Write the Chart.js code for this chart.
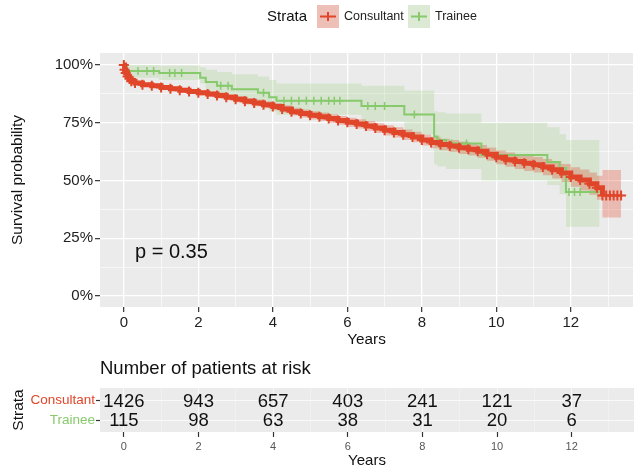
<!DOCTYPE html>
<html><head><meta charset="utf-8">
<script src="https://cdn.jsdelivr.net/npm/chart.js@4"></script>
<style>
html,body{margin:0;padding:0;background:#fff;width:640px;height:470px;overflow:hidden;}
.box{position:absolute;left:0;width:640px;}
</style></head><body>
<div class="box" style="top:0;height:350px"><canvas id="c1"></canvas></div>
<div class="box" style="top:350px;height:120px"><canvas id="c2"></canvas></div>
<script>
// ---------- data ----------
const strata = ['Consultant', 'Trainee'];
const consultantTime = [0,0.02,0.05,0.1,0.15,0.2,0.3,0.5,0.75,1,1.25,1.5,1.75,2,2.25,2.5,2.75,3,3.25,3.5,3.75,4,4.25,4.5,4.75,5,5.25,5.5,5.75,6,6.25,6.5,6.75,7,7.25,7.5,7.75,8,8.25,8.5,8.75,9,9.25,9.5,9.75,10,10.25,10.5,10.75,11,11.25,11.5,11.75,12,12.25,12.5,12.7,12.85,13.35];
const consultantSurv = [100,98,96.5,95,94,93,92.2,91.5,91,90.3,89.7,89.1,88.5,88,87.4,86.8,86,85.2,84.3,83.6,82.8,82,81,79.8,79,78.2,77.6,76.8,76,75.2,74.5,73.6,72.7,71.7,70.8,69.8,68.8,67.5,66.4,65.6,64.9,64.2,63.5,62.6,61.4,60,59,58.2,57.4,56.8,55.8,54.6,53.2,51.5,50.2,48.6,46.8,43.5,43.5];
const consultantUpper = [100,98.6,97.2,95.8,94.8,93.8,93.1,92.4,91.9,91.3,90.7,90.2,89.6,89.2,88.6,88.1,87.3,86.6,85.7,85.1,84.3,83.6,82.6,81.5,80.7,80,79.4,78.7,77.9,77.2,76.5,75.7,74.8,73.9,73,72.1,71.1,69.9,68.9,68.1,67.5,66.9,66.2,65.4,64.3,63,62.1,61.4,60.7,60.2,59.3,58.3,57.1,55.7,54.7,53.4,52,54.5,54.5];
const consultantLower = [100,97.4,95.8,94.2,93.2,92.2,91.3,90.6,90.1,89.3,88.7,88,87.4,86.8,86.2,85.5,84.7,83.8,82.9,82.1,81.3,80.4,79.4,78.1,77.3,76.4,75.8,74.9,74.1,73.2,72.5,71.5,70.6,69.5,68.6,67.5,66.5,65.1,63.9,63.1,62.3,61.5,60.8,59.8,58.5,57,55.9,55,54.1,53.4,52.3,50.9,49.3,47.3,45.7,43.8,41.6,34,34];
const consultantEndCensorTime = [12.95,13.05,13.15,13.25];
const consultantEndCensorSurv = [43.5,43.5,43.5,43.5];

const traineeTime = [0,0.08,0.95,2.05,2.2,2.5,2.9,3.6,3.9,4.1,6.38,7.53,8.33,8.42,8.65,9.6,11.37,11.7,11.87,12.77];
const traineeSurv = [100,97.4,96.5,94.5,92.6,91,89.5,88,86,84.5,82.3,78.6,69,67.5,66,61,58,55.4,45,45];
const traineeUpper = [100,100,99.8,99,98,97,96,95,93.5,92,91,89,80,79.5,79,75,73,70,67.5,67.5];
const traineeLower = [100,94.5,93.5,92,89,86.5,84.5,83,80,78.5,75.5,70,57,56,55,50,48,44,30,30];
const traineeCensorTime = [0.38,0.62,0.8,1.23,1.37,1.55,2.6,2.8,3.75,4.3,4.5,4.7,4.9,5.1,5.3,5.5,5.65,5.8,6.55,6.75,7.0,7.8,8.8,9.2,11.95,12.1,12.25];
const traineeCensorSurv = [97.4,97.4,97.4,96.5,96.5,96.5,91,91,88,84.5,84.5,84.5,84.5,84.5,84.5,84.5,84.5,84.5,82.3,82.3,82.3,78.6,66,66,45,45,45];

const pValueText = 'p = 0.35';
const xMajorTicks = [0,2,4,6,8,10,12];
const yMajorTicks = [0,25,50,75,100];
const riskTimes = [0,2,4,6,8,10,12];
const consultantRisk = [1426,943,657,403,241,121,37];
const traineeRisk = [115,98,63,38,31,20,6];

// ---------- style ----------
const FONT = "'Liberation Sans', Arial, Helvetica, sans-serif";
const RED = 'rgb(224,70,42)';
const GREEN = 'rgb(135,202,108)';
const RED_FILL = 'rgba(224,72,44,0.3)';
const GREEN_FILL = 'rgba(135,202,108,0.22)';
const PANEL = '#EBEBEB';
const XMIN = -0.64, XMAX = 13.67;

const pts = (xs, ys) => xs.map((x, i) => ({x: x, y: ys[i]}));

const panelBg = {
  id: 'panelBg',
  beforeDraw(chart) {
    const a = chart.chartArea, ctx = chart.ctx;
    ctx.save(); ctx.fillStyle = PANEL;
    ctx.fillRect(a.left, a.top, a.right - a.left, a.bottom - a.top);
    ctx.restore();
  }
};

const mainExtras = {
  id: 'mainExtras',
  afterDraw(chart) {
    const ctx = chart.ctx, xs = chart.scales.x, ys = chart.scales.y;
    ctx.save();
    ctx.fillStyle = '#111';
    ctx.font = '20px ' + FONT;
    ctx.textAlign = 'left'; ctx.textBaseline = 'middle';
    ctx.fillText(pValueText, xs.getPixelForValue(0.3), ys.getPixelForValue(19));
    ctx.font = '15px ' + FONT;
    ctx.fillStyle = '#111';
    ctx.fillText('Strata', 267, 17);
    const items = [{label: strata[0], c: RED, f: RED_FILL, x: 317}, {label: strata[1], c: GREEN, f: GREEN_FILL, x: 408}];
    items.forEach(it => {
      ctx.fillStyle = '#f2f2f2'; ctx.fillRect(it.x, 5, 22, 23);
      ctx.fillStyle = it.f; ctx.fillRect(it.x, 5, 22, 23);
      ctx.strokeStyle = it.c; ctx.lineWidth = 2;
      ctx.beginPath(); ctx.moveTo(it.x + 3, 16.5); ctx.lineTo(it.x + 19, 16.5);
      ctx.moveTo(it.x + 11, 12); ctx.lineTo(it.x + 11, 21); ctx.stroke();
      ctx.fillStyle = '#222'; ctx.font = '12.5px ' + FONT;
      ctx.fillText(it.label, it.x + 27, 17);
    });
    ctx.restore();
  }
};

function gridWidth(ctx, majors) {
  return ctx.tick && majors.includes(ctx.tick.value) ? 1.3 : 0.6;
}

new Chart(document.getElementById('c1'), {
  type: 'line',
  data: {
    datasets: [
      {label: 'Consultant', data: pts(consultantTime, consultantSurv), stepped: 'before', borderColor: RED, borderWidth: 5,
       segment: {borderWidth: c => c.p0.parsed.x >= 12.8 ? 2 : 5},
       pointStyle: 'cross', pointRadius: 5, pointBorderWidth: 2, pointBorderColor: RED, fill: false},
      {label: 'ConsultantCensor', data: pts(consultantEndCensorTime, consultantEndCensorSurv), showLine: false, pointStyle: 'cross',
       pointRadius: 5, pointBorderWidth: 2, pointBorderColor: RED, fill: false},
      {label: 'TraineeCensor', data: pts(traineeCensorTime, traineeCensorSurv), showLine: false, pointStyle: 'cross',
       pointRadius: 4, pointBorderWidth: 1.5, pointBorderColor: GREEN, fill: false},
      {label: 'Trainee', data: pts(traineeTime, traineeSurv), stepped: 'before', borderColor: GREEN, borderWidth: 2,
       pointRadius: 0, fill: false},
      {label: 'cU', data: pts(consultantTime, consultantUpper), stepped: 'before', borderWidth: 0, pointRadius: 0,
       fill: '+1', backgroundColor: RED_FILL},
      {label: 'cL', data: pts(consultantTime, consultantLower), stepped: 'before', borderWidth: 0, pointRadius: 0, fill: false},
      {label: 'tU', data: pts(traineeTime, traineeUpper), stepped: 'before', borderWidth: 0, pointRadius: 0,
       fill: '+1', backgroundColor: GREEN_FILL},
      {label: 'tL', data: pts(traineeTime, traineeLower), stepped: 'before', borderWidth: 0, pointRadius: 0, fill: false}
    ]
  },
  options: {
    responsive: true, maintainAspectRatio: false, animation: false, events: [],
    layout: {padding: {top: 53, left: 0, right: 6, bottom: 0}},
    plugins: {legend: {display: false}, tooltip: {enabled: false}},
    scales: {
      x: {
        type: 'linear', min: XMIN, max: XMAX,
        afterBuildTicks: s => { s.ticks = [0,1,2,3,4,5,6,7,8,9,10,11,12,13].map(v => ({value: v})); },
        afterFit: s => { s.height = 43; },
        border: {display: false},
        grid: {color: '#fff', lineWidth: c => gridWidth(c, xMajorTicks), drawTicks: true, tickLength: 5,
               tickColor: c => xMajorTicks.includes(c.tick.value) ? '#333' : 'rgba(0,0,0,0)', tickWidth: 1.2},
        ticks: {autoSkip: false, maxRotation: 0, padding: 2, color: '#222', font: {family: FONT, size: 15},
                callback: v => xMajorTicks.includes(v) ? String(v) : ''},
        title: {display: true, text: 'Years', color: '#111', font: {family: FONT, size: 15.3}, padding: {top: 0, bottom: 1}}
      },
      y: {
        type: 'linear', min: -4.8, max: 105.2,
        afterBuildTicks: s => { s.ticks = [0,12.5,25,37.5,50,62.5,75,87.5,100].map(v => ({value: v})); },
        afterFit: s => { s.width = 100; },
        border: {display: false},
        grid: {color: '#fff', lineWidth: c => gridWidth(c, yMajorTicks), drawTicks: true, tickLength: 5,
               tickColor: c => yMajorTicks.includes(c.tick.value) ? '#333' : 'rgba(0,0,0,0)', tickWidth: 1.2},
        ticks: {autoSkip: false, padding: 2, color: '#222', font: {family: FONT, size: 15},
                callback: v => yMajorTicks.includes(v) ? v + '%' : ''},
        title: {display: true, text: 'Survival probability', color: '#111', font: {family: FONT, size: 15.5}, padding: {top: 8, bottom: 0}}
      }
    }
  },
  plugins: [panelBg, mainExtras]
});

// ---------- risk table ----------
const riskText = {
  id: 'riskText',
  afterDraw(chart) {
    const ctx = chart.ctx, xs = chart.scales.x, ys = chart.scales.y;
    ctx.save();
    ctx.fillStyle = '#111';
    ctx.font = '18.5px ' + FONT;
    ctx.textAlign = 'left'; ctx.textBaseline = 'middle';
    ctx.fillText('Number of patients at risk', 100, 19);
    ctx.textAlign = 'center';
    riskTimes.forEach((t, i) => {
      ctx.fillText(String(consultantRisk[i]), xs.getPixelForValue(t), ys.getPixelForValue(2) + 1.5);
      ctx.fillText(String(traineeRisk[i]), xs.getPixelForValue(t), ys.getPixelForValue(1) + 1);
    });
    ctx.restore();
  }
};

new Chart(document.getElementById('c2'), {
  type: 'scatter',
  data: {datasets: [{data: [], pointRadius: 0}]},
  options: {
    responsive: true, maintainAspectRatio: false, animation: false, events: [],
    layout: {padding: {top: 38, left: 0, right: 6, bottom: 0}},
    plugins: {legend: {display: false}, tooltip: {enabled: false}},
    scales: {
      x: {
        type: 'linear', min: XMIN, max: XMAX,
        afterBuildTicks: s => { s.ticks = [0,1,2,3,4,5,6,7,8,9,10,11,12,13].map(v => ({value: v})); },
        afterFit: s => { s.height = 38; },
        border: {display: false},
        grid: {color: 'rgba(255,255,255,0.7)', lineWidth: c => gridWidth(c, xMajorTicks) * 0.7, drawTicks: true, tickLength: 5,
               tickColor: c => xMajorTicks.includes(c.tick.value) ? '#333' : 'rgba(0,0,0,0)', tickWidth: 1.2},
        ticks: {autoSkip: false, maxRotation: 0, padding: 3, color: '#555', font: {family: FONT, size: 11},
                callback: v => xMajorTicks.includes(v) ? String(v) : ''},
        title: {display: true, text: 'Years', color: '#111', font: {family: FONT, size: 15}, padding: {top: 0, bottom: 0}}
      },
      y: {
        type: 'linear', min: 0.4, max: 2.6,
        afterBuildTicks: s => { s.ticks = [1, 2].map(v => ({value: v})); },
        afterFit: s => { s.width = 100; },
        border: {display: false},
        grid: {color: 'rgba(255,255,255,0.7)', lineWidth: 1, drawTicks: true, tickLength: 4, tickColor: '#333', tickWidth: 1.2},
        ticks: {autoSkip: false, padding: 1, font: {family: FONT, size: 13.5},
                color: c => c.tick.value === 2 ? RED : GREEN,
                callback: v => v === 2 ? strata[0] : strata[1]},
        title: {display: true, text: 'Strata', color: '#111', font: {family: FONT, size: 15.5}, padding: {top: 9, bottom: 0}}
      }
    }
  },
  plugins: [panelBg, riskText]
});
</script>
</body></html>
